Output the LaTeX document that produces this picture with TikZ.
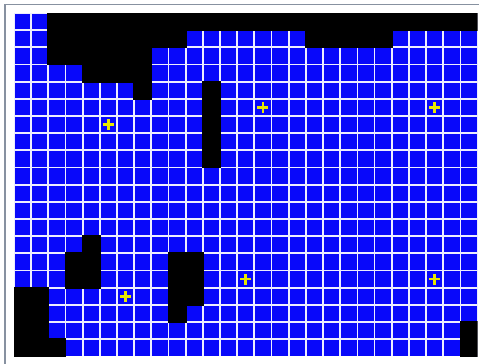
\documentclass[tikz,border=0pt]{standalone}
\definecolor{cellblue}{RGB}{8,8,250}
\definecolor{gridline}{RGB}{236,236,255}
\definecolor{framegray}{RGB}{135,145,160}
\definecolor{crossyellow}{RGB}{232,232,0}
\tikzset{
  bluecell/.style={fill=cellblue},
  wall/.style={fill=black},
  crossmark/.style={draw=crossyellow, line width=2.6pt},
  frameline/.style={draw=framegray, line width=1.1pt}
}
\begin{document}
\begin{tikzpicture}[x=1pt,y=-1pt]
\useasboundingbox (0,0) rectangle (483,364);
\fill[white] (0,0) rectangle (483,364);
% frame
\draw[frameline] (5,364) -- (5,4.5) -- (479,4.5);
% grid
\begin{scope}[shift={(14,13)}, x=17.17pt, y=-17.17pt]
  \fill[gridline] (0,0) rectangle (27,20);
  \foreach \c in {0,...,26} {
    \foreach \r in {0,...,19} {
      \path[bluecell] ([xshift=0.9pt,yshift=-0.9pt]\c,\r) rectangle ([xshift=-0.9pt,yshift=0.9pt]\c+1,\r+1);
    }
  }
  \begin{scope}
    \clip (0,0) rectangle (27,20);
    \foreach \a/\b/\cc/\d in {
      2/0/27/1, 2/1/10/2, 17/1/22/2, 2/2/8/3, 4/3/8/4, 7/4/8/5,
      11/4/12/9, 4/13/5/14, 3/14/5/16, 0/16/2/20, 2/19/3/20,
      9/14/11/17, 9/17/10/18, 26/18/27/20} {
      \path[wall] ([xshift=-0.9pt,yshift=0.9pt]\a,\b) rectangle ([xshift=0.9pt,yshift=-0.9pt]\cc,\d);
    }
  \end{scope}
  % crosses
  \foreach \c/\r in {5/6, 14/5, 24/5, 6/16, 13/15, 24/15} {
    \coordinate (m\c-\r) at (\c+0.5,\r+0.5);
    \draw[crossmark] ([xshift=-5.5pt]m\c-\r) -- ([xshift=5.5pt]m\c-\r);
    \draw[crossmark] ([yshift=-5.5pt]m\c-\r) -- ([yshift=5.5pt]m\c-\r);
  }
\end{scope}
\end{tikzpicture}
\end{document}
